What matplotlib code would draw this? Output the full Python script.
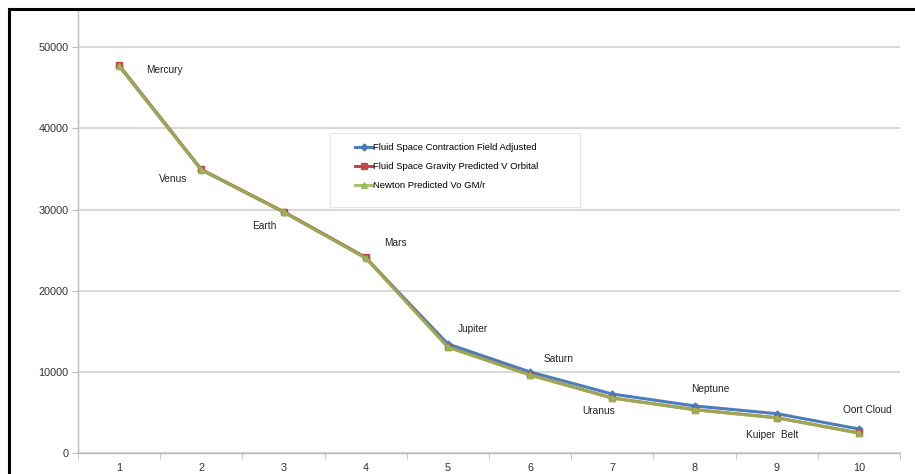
import matplotlib
matplotlib.use("Agg")
import matplotlib.pyplot as plt
from matplotlib.lines import Line2D
from matplotlib.patches import Rectangle

positions = [1, 2, 3, 4, 5, 6, 7, 8, 9, 10]
bodies = ["Mercury", "Venus", "Earth", "Mars", "Jupiter", "Saturn", "Uranus",
          "Neptune", "Kuiper  Belt", "Oort Cloud"]
contraction_adjusted = [47700, 34900, 29700, 24050, 13440, 9990, 7270, 5800, 4850, 2960]
gravity_predicted = [47800, 34950, 29750, 24100, 13070, 9620, 6780, 5350, 4350, 2470]
newton_predicted = [47700, 34900, 29700, 24000, 13050, 9600, 6780, 5330, 4330, 2460]
y_ticks = [0, 10000, 20000, 30000, 40000, 50000]
label_x = [1.33, 1.49, 2.62, 4.22, 5.12, 6.17, 6.64, 7.96, 8.63, 9.81]
label_y = [47200, 33800, 28000, 25900, 15300, 11600, 5180, 7900, 2200, 5300]

plt.rcParams['font.family'] = ['Liberation Sans', 'DejaVu Sans']

fig = plt.figure(figsize=(9.15, 4.74), dpi=100)
ax = fig.add_axes([78/915, 1 - 453/474, (900-78)/915, (453-10)/474])

ax.plot(positions, contraction_adjusted, color='#4a7ebb', lw=2.2, marker='D', ms=3.5,
        label='Fluid Space Contraction Field Adjusted', zorder=3)
ax.plot(positions, gravity_predicted, color='#be4b48', lw=2.2, marker='s', ms=5,
        label='Fluid Space Gravity Predicted V Orbital', zorder=4)
ax.plot(positions, newton_predicted, color='#98b954', lw=2.2, marker='^', ms=5, alpha=0.85,
        label='Newton Predicted Vo GM/r', zorder=5)

for x, y, t in zip(label_x, label_y, bodies):
    ax.text(x, y, t, fontsize=7.3, color='#222222', va='center', ha='left')

ax.set_xlim(0.5, 10.5)
ax.set_ylim(0, 54600)
ax.set_yticks(y_ticks)
ax.set_yticklabels([str(v) for v in y_ticks])
ax.set_xticks(positions)
ax.set_xticklabels([str(p) for p in positions])
ax.set_xticks([p + 0.5 for p in range(0, 11)], minor=True)
ax.tick_params(axis='x', which='major', length=0, pad=7, labelsize=7.8, labelcolor='#333333')
ax.tick_params(axis='x', which='minor', length=4, color='#bbbbbb', direction='out')
ax.tick_params(axis='y', which='major', length=4, color='#bbbbbb', labelsize=7.8,
               labelcolor='#333333', pad=3)
ax.grid(axis='y', color='#d9d9d9', lw=1.5)
ax.set_axisbelow(True)
for s in ['top', 'right']:
    ax.spines[s].set_visible(False)
for s in ['left', 'bottom']:
    ax.spines[s].set_color('#bbbbbb')
    ax.spines[s].set_linewidth(1)

# legend box
ax.add_patch(Rectangle(((330-78)/822, (453-207)/443), (580-330)/822, (207-133)/443,
                       transform=ax.transAxes, facecolor='white', edgecolor='#e6e6e6',
                       lw=0.8, zorder=6))
leg = ax.legend(loc='upper left', bbox_to_anchor=((355-78)/822, (453-143)/443),
                fontsize=6.8, frameon=False, handlelength=1.8, handletextpad=0.15,
                labelspacing=1.05, borderpad=0, borderaxespad=0)
leg.set_zorder(7)

fig.add_artist(Line2D([9/915, 9/915], [0, 1 - 9/474], transform=fig.transFigure,
                      color='black', lw=2.2))
fig.add_artist(Line2D([9/915, 1], [1 - 9/474, 1 - 9/474], transform=fig.transFigure,
                      color='black', lw=2.2))

fig.savefig('out.png', dpi=100)
